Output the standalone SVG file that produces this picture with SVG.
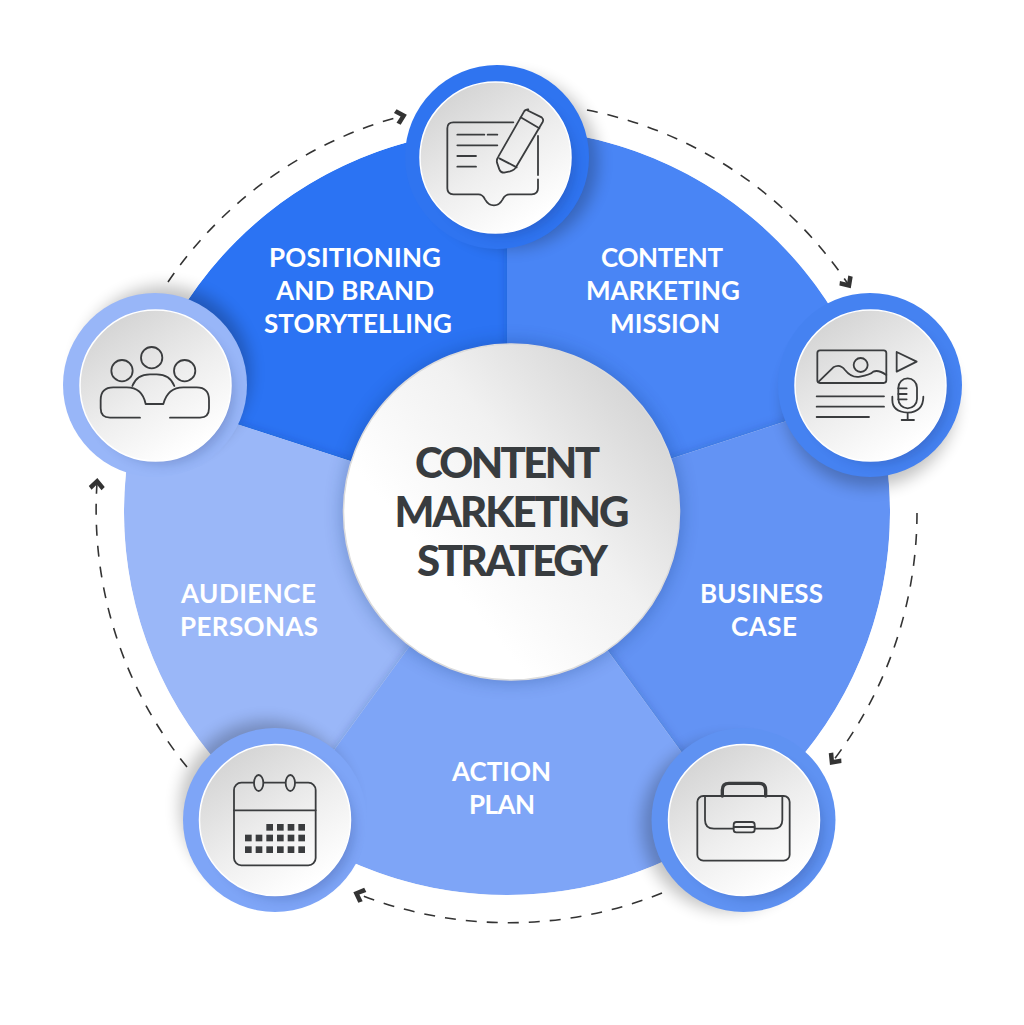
<svg xmlns="http://www.w3.org/2000/svg" width="1024" height="1025" viewBox="0 0 1024 1025">
<style>
.lbl{font-family:"Lato","Liberation Sans",sans-serif;font-weight:700;font-size:26px;fill:#fff;text-anchor:middle}
.ctr{font-family:"Lato","Liberation Sans",sans-serif;font-weight:900;font-size:42px;fill:#383c3f;text-anchor:middle}
.ic{fill:none;stroke:#3a3c3e;stroke-width:5.400;stroke-linecap:round;stroke-linejoin:round}
.sq{fill:#3a3c3e}
.arc{fill:none;stroke:#333;stroke-width:1.6;stroke-dasharray:11 10;marker-end:url(#ah)}
.sh{fill:#000;opacity:.24;filter:url(#b6)}
.sh2{fill:#0a1f55;opacity:.2;filter:url(#b5)}
.disc{fill:url(#dg);stroke:#fff;stroke-width:1.5}
</style>
<defs>
<filter id="b6" x="-30%" y="-30%" width="160%" height="160%"><feGaussianBlur stdDeviation="8"/></filter>
<filter id="b5" x="-30%" y="-30%" width="160%" height="160%"><feGaussianBlur stdDeviation="6"/></filter>
<filter id="b9" x="-30%" y="-30%" width="160%" height="160%"><feGaussianBlur stdDeviation="9"/></filter>
<filter id="ws" x="-30%" y="-30%" width="160%" height="160%"><feDropShadow dx="0" dy="0" stdDeviation="5" flood-color="#12306e" flood-opacity=".25"/></filter>
<linearGradient id="dg" x1="0.15" y1="0.1" x2="0.7" y2="0.95"><stop offset="0" stop-color="#d4d4d4"/><stop offset=".55" stop-color="#eeeeee"/><stop offset="1" stop-color="#fff"/></linearGradient>
<linearGradient id="cg" x1="0.95" y1="0.25" x2="0.35" y2="0.75"><stop offset="0" stop-color="#d6d6d6"/><stop offset=".5" stop-color="#f1f1f1"/><stop offset="1" stop-color="#fff"/></linearGradient>
<marker id="ah" markerUnits="userSpaceOnUse" markerWidth="20" markerHeight="20" refX="10" refY="10" orient="auto" overflow="visible"><path d="M15,10 L6.500,2 L3,5 L8.500,10 L3,15 L6.500,18 Z" fill="#333"/></marker>
<clipPath id="big"><circle cx="507" cy="512" r="383"/></clipPath>
</defs>
<rect width="1024" height="1025" fill="#fff"/>
<g id="sectors" clip-path="url(#big)">
<path id="s1" fill="#2b73f3" d="M507,512 L507,129 A383,383 0 0 0 142.700,393.600 Z"/>
<path id="s5" fill="#9ab7f8" filter="url(#ws)" d="M507,512 L142.700,393.600 A383,383 0 0 0 281.900,821.900 Z"/>
<path id="s2" fill="#4a85f5" filter="url(#ws)" d="M507,512 L507,129 A383,383 0 0 1 871.300,393.600 Z"/>
<path id="s3" fill="#6393f4" filter="url(#ws)" d="M507,512 L871.300,393.600 A383,383 0 0 1 732.100,821.900 Z"/>
<path id="s4" fill="#7ea5f7" filter="url(#ws)" d="M507,512 L732.100,821.900 A383,383 0 0 1 281.900,821.900 Z"/>
</g>
<g id="connectors">
<path class="arc" d="M168,282 A410,410 0 0 1 402,116"/>
<path class="arc" d="M587,110 A410,410 0 0 1 848,284"/>
<path class="arc" d="M917,513 A410,410 0 0 1 833,761"/>
<path class="arc" d="M662,893 A410,410 0 0 1 358,894"/>
<path class="arc" d="M187,767 A410,410 0 0 1 97,483"/>
</g>
<g id="center">
<circle cx="511.500" cy="512" r="170" fill="#0f2a66" opacity=".28" filter="url(#b9)"/>
<circle cx="511.500" cy="512" r="168" fill="url(#cg)" stroke="#dcdcdc" stroke-width="1.500"/>
<text class="ctr" x="507.500" y="478" textLength="185">CONTENT</text>
<text class="ctr" x="512" y="527" textLength="235">MARKETING</text>
<text class="ctr" x="512.500" y="576" textLength="191">STRATEGY</text>
</g>
<g id="labels">
<text class="lbl" x="355" y="267" textLength="172">POSITIONING</text>
<text class="lbl" x="355" y="300" textLength="158">AND BRAND</text>
<text class="lbl" x="358" y="333" textLength="188">STORYTELLING</text>
<text class="lbl" x="662" y="267" textLength="122">CONTENT</text>
<text class="lbl" x="663" y="300" textLength="154">MARKETING</text>
<text class="lbl" x="665" y="333" textLength="110">MISSION</text>
<text class="lbl" x="761.500" y="603" textLength="123">BUSINESS</text>
<text class="lbl" x="764" y="636" textLength="66">CASE</text>
<text class="lbl" x="501.500" y="781" textLength="99">ACTION</text>
<text class="lbl" x="502" y="814" textLength="66">PLAN</text>
<text class="lbl" x="248.500" y="603" textLength="135">AUDIENCE</text>
<text class="lbl" x="249" y="636" textLength="138">PERSONAS</text>
</g>
<g id="node-top">
<circle class="sh" cx="512" cy="162" r="86"/>
<circle cx="497" cy="157" r="92" fill="#2f74f0"/>
<circle class="sh2" cx="504" cy="165" r="71"/>
<circle class="disc" cx="495.500" cy="157.500" r="75.500"/>
<g transform="translate(400,60) scale(.33333)" class="ic">
<path d="M340,187 H160 Q142,187 142,205 V385 Q142,403 160,403 H235 Q248,403 255,418 Q265,436 282,436 Q298,436 308,418 Q315,403 330,403 H395 Q414,403 414,385 V358"/>
<path d="M414,345 V228"/>
<path d="M172,224 H253 M263,224 H292 M172,256 H292 M172,288 H228 M172,320 H228"/>
<path d="M380,150 L425,172 Q432,178 428,186 L350,318 Q345,330 330,334 L312,338 Q302,338 298,328 L291,308 Q289,298 295,290 L372,155 Q375,148 385,148 Z"/>
<path d="M362,172 L418,205 M298,295 L350,322"/>
</g>
</g>
<g id="node-right">
<circle class="sh" cx="870" cy="401" r="86"/>
<circle cx="870" cy="385" r="92" fill="#4582f1"/>
<circle class="sh2" cx="878" cy="393" r="71"/>
<circle class="disc" cx="870.500" cy="385.500" r="75.500"/>
<g transform="translate(770,280) scale(.33333)" class="ic">
<rect x="142" y="211" width="207" height="98" rx="8"/>
<path d="M146,305 L190,262 Q210,250 225,270 Q245,295 270,290 Q300,285 310,275 Q325,268 349,285"/>
<circle cx="272" cy="255" r="21"/>
<path d="M380,216 L440,245 L380,275 Z"/>
<path d="M140,349 H342 M140,380 H342 M140,411 H297"/>
<rect x="385" y="295" width="56" height="90" rx="28"/>
<path d="M385,325 H410 M385,342 H410 M385,358 H410"/>
<path d="M367,350 V360 Q367,395 413,398 Q460,395 460,350 M413,398 V420 M395,420 H432"/>
</g>
</g>
<g id="node-bottom-right">
<circle class="sh" cx="728" cy="825" r="86"/>
<circle cx="743.500" cy="820" r="92" fill="#5f92f2"/>
<circle class="sh2" cx="752" cy="828" r="71"/>
<circle class="disc" cx="744" cy="820" r="75.500"/>
<g transform="translate(640,730) scale(.33333)" class="ic">
<path d="M247,198 V180 Q247,160 267,160 H357 Q377,160 377,180 V198" stroke-width="10"/>
<rect x="172" y="198" width="277" height="194" rx="18"/>
<path d="M195,200 V270 Q195,296 222,296 H280 M344,296 H400 Q427,296 427,270 V200"/>
<rect x="281" y="276" width="63" height="31" rx="8"/>
<path d="M281,291 H344"/>
</g>
</g>
<g id="node-bottom-left">
<circle class="sh" cx="266" cy="807" r="86"/>
<circle cx="275" cy="820" r="92" fill="#7ea5f7"/>
<circle class="sh2" cx="283" cy="828" r="71"/>
<circle class="disc" cx="275" cy="820" r="75.500"/>
<g transform="translate(170,730) scale(.33333)">
<g class="ic">
<rect x="192" y="158" width="245" height="248" rx="22"/>
<path d="M192,241 H437"/>
<ellipse cx="266" cy="159" rx="14" ry="24" fill="#e2e2e2"/>
<ellipse cx="361" cy="159" rx="14" ry="24" fill="#e2e2e2"/>
</g>
<g class="sq">
<rect x="289" y="282" width="20" height="20"/><rect x="321" y="282" width="20" height="20"/><rect x="353" y="282" width="20" height="20"/><rect x="385" y="282" width="20" height="20"/>
<rect x="225" y="314" width="20" height="20"/><rect x="257" y="314" width="20" height="20"/><rect x="289" y="314" width="20" height="20"/><rect x="321" y="314" width="20" height="20"/><rect x="353" y="314" width="20" height="20"/><rect x="385" y="314" width="20" height="20"/>
<rect x="225" y="349" width="20" height="20"/><rect x="257" y="349" width="20" height="20"/><rect x="289" y="349" width="20" height="20"/><rect x="321" y="349" width="20" height="20"/><rect x="353" y="349" width="20" height="20"/><rect x="385" y="349" width="20" height="20"/>
</g>
</g>
</g>
<g id="node-left">
<circle class="sh" cx="164" cy="372" r="86"/>
<circle cx="155" cy="385" r="92" fill="#98b6f8"/>
<circle class="sh2" cx="163" cy="393" r="71"/>
<circle class="disc" cx="155.500" cy="385.500" r="75.500"/>
<g transform="translate(55,280) scale(.33333)" class="ic">
<circle cx="290" cy="233" r="32"/>
<circle cx="201" cy="272" r="32"/>
<circle cx="389" cy="272" r="32"/>
<path d="M232,318 Q245,283 285,283 H305 Q345,283 358,318"/>
<path d="M255,413 H165 Q137,413 137,385 V360 Q137,322 175,322 H215 Q262,322 272,372 H325 Q338,322 385,322 H425 Q462,322 462,360 V385 Q462,413 435,413 H345"/>
</g>
</g>
</svg>
